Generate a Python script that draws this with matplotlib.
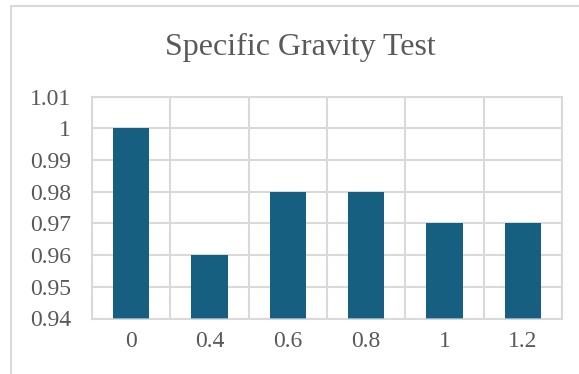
import numpy as np
import matplotlib
matplotlib.use('Agg')
import matplotlib.pyplot as plt
from matplotlib.patches import Rectangle

# données
categories = ['0', '0.4', '0.6', '0.8', '1', '1.2']
gravity = [1.00, 0.96, 0.98, 0.98, 0.97, 0.97]
y_ticks = [0.94, 0.95, 0.96, 0.97, 0.98, 0.99, 1.00, 1.01]
y_labels = ['0.94', '0.95', '0.96', '0.97', '0.98', '0.99', '1', '1.01']

plt.rcParams['font.family'] = ['Liberation Serif', 'DejaVu Serif']
grey_txt = '#595959'
grid_col = '#D9D9D9'
bar_col = '#175F80'

fig = plt.figure(figsize=(5.79, 3.74), dpi=100)
ax = fig.add_axes([92/579, 1 - 318.5/374, (562 - 92)/579, (318.5 - 96.7)/374])

x = np.arange(len(categories))
ax.bar(x, [g - 0.94 for g in gravity], bottom=0.94, width=0.46,
       color=bar_col, zorder=3)
# liseré clair en bas des barres
ax.bar(x, 0.0004, bottom=0.9396, width=0.46, color='#7FAFC6', zorder=4)

ax.set_xlim(-0.5, len(categories) - 0.5)
ax.set_ylim(0.94, 1.01)
ax.set_xticks(x)
ax.set_xticklabels(categories)
ax.set_xticks(np.arange(-0.5, len(categories)), minor=True)
ax.set_yticks(y_ticks)
ax.set_yticklabels(y_labels)

ax.grid(True, axis='y', which='major', color=grid_col, lw=1.5, zorder=0)
ax.grid(True, axis='x', which='minor', color=grid_col, lw=1.5, zorder=0)
ax.tick_params(axis='both', which='both', length=0, labelsize=17, labelcolor=grey_txt)
ax.tick_params(axis='y', pad=15)
ax.tick_params(axis='x', pad=9)
for s in ax.spines.values():
    s.set_color(grid_col)
    s.set_linewidth(1.5)

fig.text(0.518, 1 - 47/374, 'Specific Gravity Test', ha='center', va='center',
         fontsize=23, color=grey_txt)

fig.patches.append(Rectangle((11/579, -0.1), 1.2, 1.1 - 6/374, transform=fig.transFigure,
                             fill=False, edgecolor=grid_col, lw=1.5))

plt.savefig('out.png', dpi=100)
